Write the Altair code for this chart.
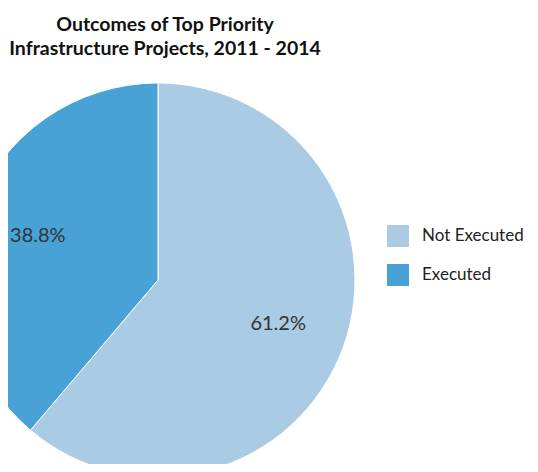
import altair as alt
import pandas as pd

categories = ["Not Executed", "Executed"]
shares = [61.2, 38.8]
labels = ["61.2%", "38.8%"]
order = [1, 2]
colors = ["#a9cbe3", "#48a2d6"]
title_lines = ["Outcomes of Top Priority", "Infrastructure Projects, 2011 - 2014"]

df = pd.DataFrame({"category": categories, "share": shares, "label": labels, "order": order})
tdf = pd.DataFrame({"line": ["\n".join(title_lines)]})

FONT = "Lato"
CX, CY, R = 150, 272, 197

base = alt.Chart(df).encode(
    theta=alt.Theta("share:Q", stack=True),
    order=alt.Order("order:Q"),
)

pie = base.mark_arc(radius=R, stroke="white", strokeWidth=1).encode(
    x=alt.value(CX),
    y=alt.value(CY),
    color=alt.Color(
        "category:N",
        scale=alt.Scale(domain=categories, range=colors),
        sort=categories,
        legend=alt.Legend(
            title=None,
            orient="none",
            legendX=379,
            legendY=217,
            symbolType="square",
            symbolSize=484,
            symbolStrokeWidth=0,
            labelFont=FONT,
            labelFontSize=17,
            labelColor="#222222",
            labelOffset=13,
            labelLimit=300,
            rowPadding=17,
        ),
    ),
)

text = base.mark_text(radius=128, font=FONT, fontSize=20, color="#333333").encode(
    x=alt.value(CX),
    y=alt.value(CY),
    text="label:N",
)

title = alt.Chart(tdf).mark_text(
    font=FONT, fontSize=19.5, fontWeight="bold", color="#111111", align="center",
    baseline="alphabetic", lineBreak="\n", lineHeight=24,
).encode(
    x=alt.value(157),
    y=alt.value(23),
    text="line:N",
)

chart = alt.layer(pie, text, title).properties(
    width=522,
    height=456,
    autosize=alt.AutoSizeParams(type="none"),
    padding=0,
).configure_view(stroke=None)

chart.save("out.html", embed_options={"renderer": "svg", "actions": False})
